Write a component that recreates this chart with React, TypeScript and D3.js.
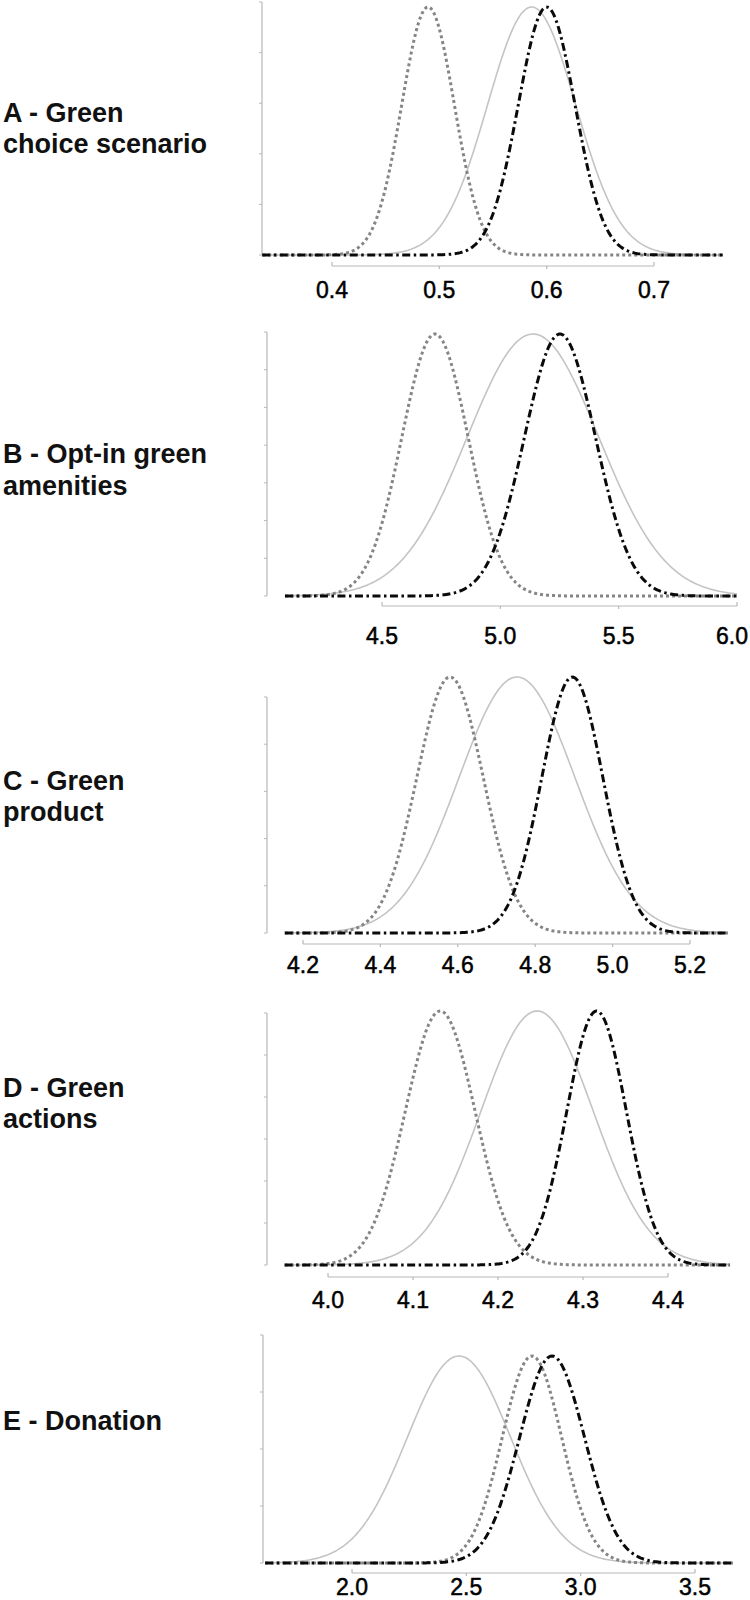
import React from "react";
import * as d3 from "d3";

// ---------- data ----------
const panelIds = ["A", "B", "C", "D", "E"];
const titleLines = [
  ["A - Green", "choice scenario"],
  ["B - Opt-in green", "amenities"],
  ["C - Green", "product"],
  ["D - Green", "actions"],
  ["E - Donation"],
];
const xTickValues = [
  [0.4, 0.5, 0.6, 0.7],
  [4.5, 5.0, 5.5, 6.0],
  [4.2, 4.4, 4.6, 4.8, 5.0, 5.2],
  [4.0, 4.1, 4.2, 4.3, 4.4],
  [2.0, 2.5, 3.0, 3.5],
];
const xTickLabels = [
  ["0.4", "0.5", "0.6", "0.7"],
  ["4.5", "5.0", "5.5", "6.0"],
  ["4.2", "4.4", "4.6", "4.8", "5.0", "5.2"],
  ["4.0", "4.1", "4.2", "4.3", "4.4"],
  ["2.0", "2.5", "3.0", "3.5"],
];
// extent of plotted curves (data units)
const curveExtents = [
  [0.335, 0.764],
  [4.09, 6.0],
  [4.153, 5.298],
  [3.949, 4.473],
  [1.62, 3.666],
];
// solid light-gray series (mean, sd)
const solidMeans = [0.586, 5.138, 4.753, 4.246, 2.468];
const solidSds = [0.041, 0.278, 0.15, 0.066, 0.226];
// dotted gray series
const dottedMeans = [0.4895, 4.724, 4.58, 4.132, 2.787];
const dottedSds = [0.0245, 0.14, 0.086, 0.041, 0.13];
// dash-dot black series
const dashMeans = [0.6, 5.252, 4.896, 4.316, 2.875];
const dashSds = [0.0264, 0.15, 0.079, 0.035, 0.142];
// number of y-axis intervals
const yTickCounts = [5, 7, 5, 6, 4];

// ---------- layout ----------
const layout = [
  { yAxisX: 262, yTop: 2, base: 255, peak: 7, xAxisY: 266, xRange: [332, 654], labelY: 298, titleY: [122, 153] },
  { yAxisX: 267, yTop: 332, base: 596, peak: 334, xAxisY: 606, xRange: [382, 737], labelY: 644, titleY: [463, 495] },
  { yAxisX: 267, yTop: 697, base: 933, peak: 677, xAxisY: 944, xRange: [303, 690], labelY: 973, titleY: [790, 821] },
  { yAxisX: 267, yTop: 1013, base: 1265, peak: 1011, xAxisY: 1277, xRange: [328, 668], labelY: 1308, titleY: [1097, 1128] },
  { yAxisX: 263, yTop: 1335, base: 1563, peak: 1356, xAxisY: 1573, xRange: [352, 695], labelY: 1595, titleY: [1430] },
];

const AXIS = "#b8b8b8";
const FONT = "'Liberation Sans', Arial, sans-serif";
const LABEL_SIZE = 23;
const WIDTH = 750;

function gaussPath(mean: number, sd: number, ext: number[], x: any, y: any) {
  const n = 300;
  const pts = d3.range(n + 1).map((i) => {
    const v = ext[0] + ((ext[1] - ext[0]) * i) / n;
    const z = (v - mean) / sd;
    return [v, Math.exp(-0.5 * z * z)] as [number, number];
  });
  return d3
    .line<[number, number]>()
    .x((d) => x(d[0]))
    .y((d) => y(d[1]))
    .curve(d3.curveLinear)(pts) as string;
}

function Panel({ i }: { i: number }) {
  const L = layout[i];
  const ticks = xTickValues[i];
  const x = d3.scaleLinear().domain([ticks[0], ticks[ticks.length - 1]]).range(L.xRange);
  const y = d3.scaleLinear().domain([0, 1]).range([L.base, L.peak]);
  const ext = curveExtents[i];
  const nY = yTickCounts[i];
  const yTicks = d3.range(nY + 1).map((k) => L.yTop + ((L.base - L.yTop) * k) / nY);
  const halfLabel = (LABEL_SIZE * 1.39) / 2;
  return (
    <g>
      {titleLines[i].map((t, k) => (
        <text key={k} x={3} y={L.titleY[k]} fontFamily={FONT} fontWeight="bold" fontSize={27} fill="#111">
          {t}
        </text>
      ))}
      {/* y axis */}
      <line x1={L.yAxisX} x2={L.yAxisX} y1={L.yTop} y2={L.base} stroke={AXIS} strokeWidth={1.2} />
      {yTicks.map((yy, k) => (
        <line key={k} x1={L.yAxisX - 3} x2={L.yAxisX} y1={yy} y2={yy} stroke={AXIS} strokeWidth={1} />
      ))}
      {/* x axis */}
      <line x1={L.xRange[0]} x2={L.xRange[1]} y1={L.xAxisY} y2={L.xAxisY} stroke={AXIS} strokeWidth={1.2} />
      {ticks.map((t, k) => {
        const end = k === 0 || k === ticks.length - 1;
        return (
          <line
            key={k}
            x1={x(t)}
            x2={x(t)}
            y1={end ? L.xAxisY - 4 : L.xAxisY}
            y2={end ? L.xAxisY : L.xAxisY + 3}
            stroke={AXIS}
            strokeWidth={1.2}
          />
        );
      })}
      {ticks.map((t, k) => (
        <text
          key={k}
          x={Math.min(x(t), WIDTH - halfLabel - 2)}
          y={L.labelY}
          textAnchor="middle"
          fontFamily={FONT}
          fontSize={LABEL_SIZE}
          fill="#000"
          stroke="#000"
          strokeWidth={0.5}
        >
          {xTickLabels[i][k]}
        </text>
      ))}
      {/* curves */}
      <path d={gaussPath(solidMeans[i], solidSds[i], ext, x, y)} fill="none" stroke="#c4c4c4" strokeWidth={1.6} />
      <path
        d={gaussPath(dottedMeans[i], dottedSds[i], ext, x, y)}
        fill="none"
        stroke="#858585"
        strokeWidth={3}
        strokeDasharray="3,3"
      />
      <path
        d={gaussPath(dashMeans[i], dashSds[i], ext, x, y)}
        fill="none"
        stroke="#0a0a0a"
        strokeWidth={3}
        strokeDasharray="8,3.5,2.5,3.5"
      />
    </g>
  );
}

export default function App() {
  return (
    <svg
      width={750}
      height={1600}
      style={{ position: "absolute", left: 0, top: 0, background: "#fff" }}
      xmlns="http://www.w3.org/2000/svg"
    >
      <rect x={0} y={0} width={750} height={1600} fill="#fff" />
      {panelIds.map((id, i) => (
        <Panel key={id} i={i} />
      ))}
    </svg>
  );
}
